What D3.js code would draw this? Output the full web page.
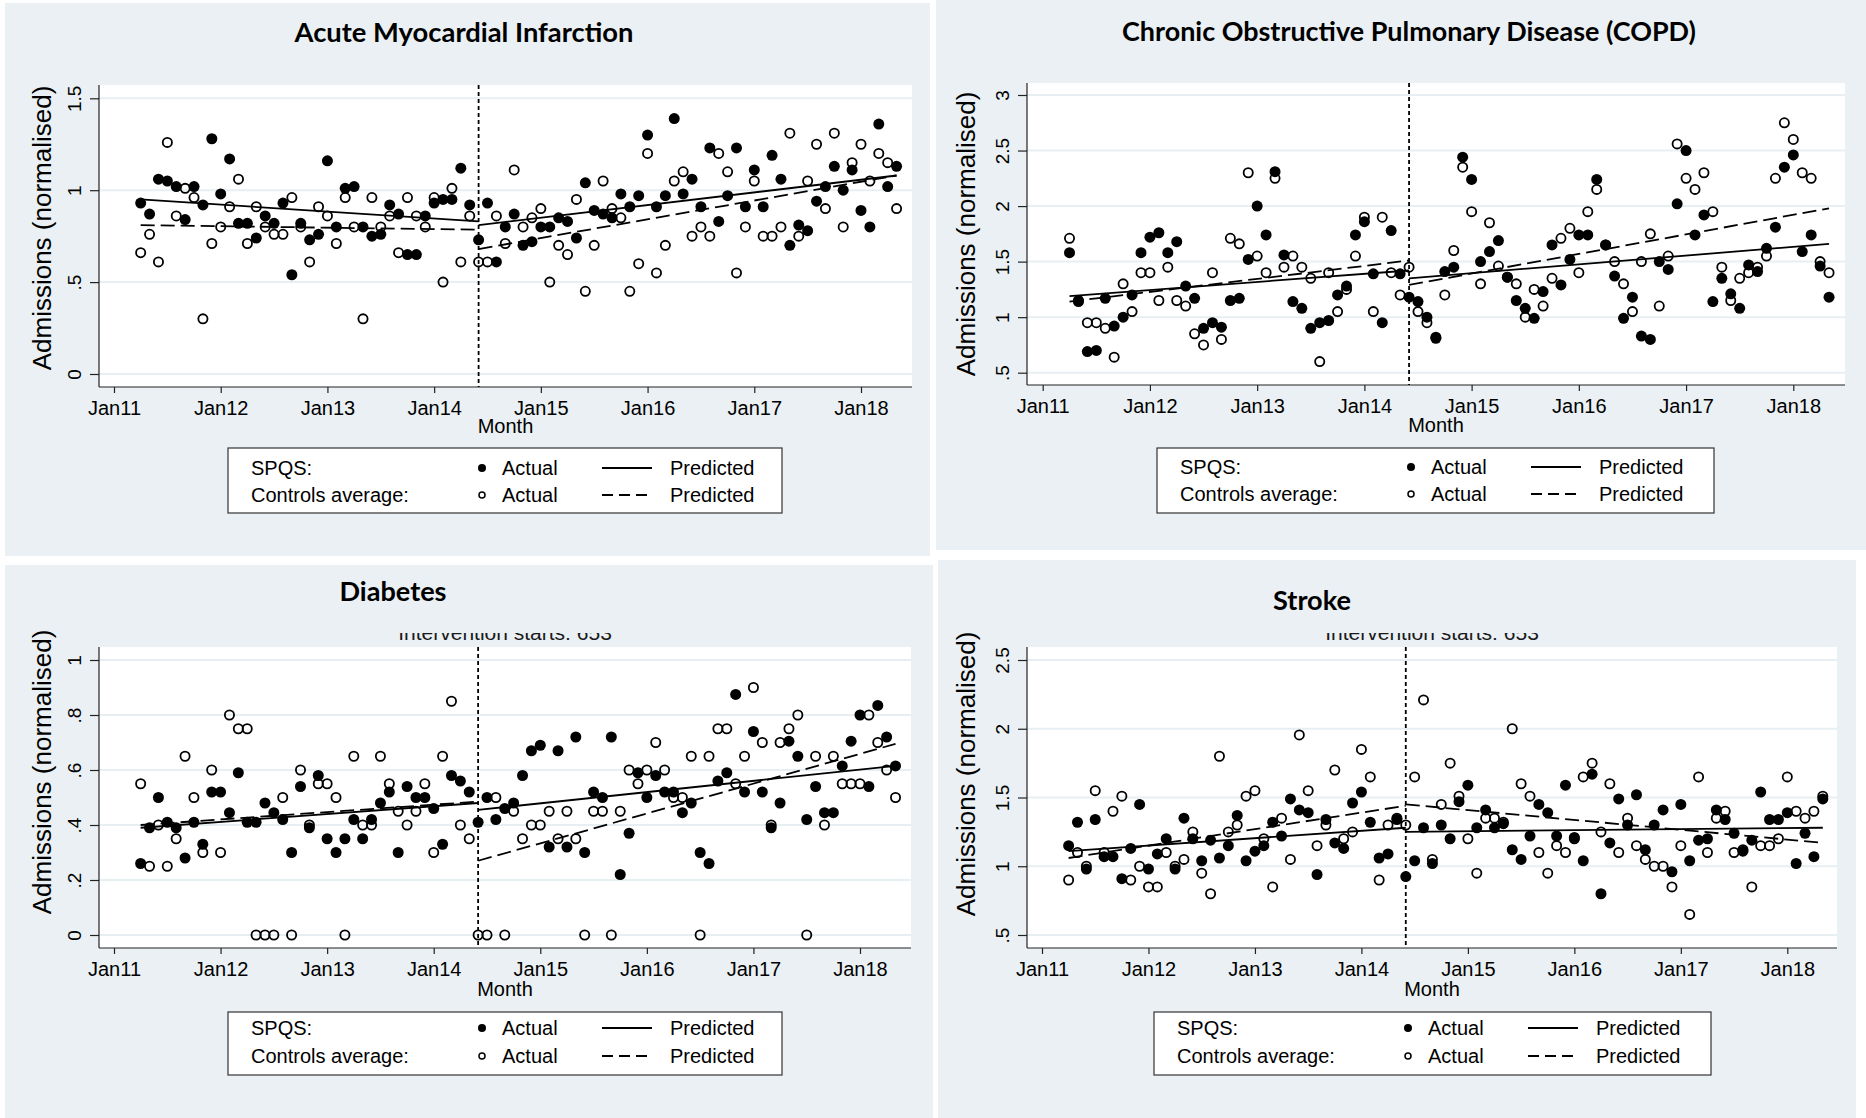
<!DOCTYPE html>
<html>
<head>
<meta charset="utf-8">
<script src="https://cdn.jsdelivr.net/npm/d3@7"></script>
<style>
  html, body { margin: 0; padding: 0; background: #ffffff; }
  svg { display: block; }
</style>
</head>
<body>
<svg id="chart" width="1866" height="1118"></svg>
<script>
// Months counted from January 2011 (0 = Jan 2011); monthly series run Apr 2011 – May 2018.
const months = d3.range(3, 89);
const interventionMonth = 41;          // June 2014
const xTickMonths = [0, 12, 24, 36, 48, 60, 72, 84];
const xTickLabels = ["Jan11", "Jan12", "Jan13", "Jan14", "Jan15", "Jan16", "Jan17", "Jan18"];
// Segmented fits: pre-intervention start/end, post-intervention start/end
const fitMonths = [3, 41, 41, 88];

// Acute myocardial infarction
const amiSpqs = [0.93,0.87,1.06,1.05,1.02,0.84,1.02,0.92,1.28,0.98,
  1.17,0.82,0.82,0.74,0.86,0.82,0.93,0.54,0.82,0.73,
  0.76,1.16,0.80,1.01,1.02,0.80,0.75,0.76,0.92,0.87,
  0.65,0.65,0.86,0.93,0.95,0.95,1.12,0.92,0.73,0.93,
  0.61,0.80,0.87,0.70,0.72,0.80,0.80,0.85,0.83,0.74,
  1.04,0.89,0.87,0.85,0.98,0.91,0.97,1.30,0.91,0.97,
  1.39,0.98,1.06,0.91,1.23,0.83,0.97,1.23,0.91,1.11,
  0.91,1.19,1.06,0.70,0.81,0.78,0.94,1.02,1.13,1.00,
  1.11,0.89,0.80,1.36,1.02,1.13];
const amiControls = [0.66,0.76,0.61,1.26,0.86,1.01,0.96,0.30,0.71,0.80,
  0.91,1.06,0.71,0.91,0.80,0.76,0.76,0.96,0.80,0.61,
  0.91,0.86,0.71,0.96,0.80,0.30,0.96,0.80,0.86,0.66,
  0.96,0.86,0.80,0.96,0.50,1.01,0.61,0.86,0.61,0.61,
  0.86,0.71,1.11,0.80,0.85,0.90,0.50,0.70,0.65,0.95,
  0.45,0.70,1.05,0.90,0.85,0.45,0.60,1.20,0.55,0.70,
  1.05,1.10,0.75,0.80,0.75,1.20,1.10,0.55,0.80,1.05,
  0.75,0.75,0.80,1.31,0.75,1.05,1.25,0.90,1.31,0.80,
  1.15,1.25,1.05,1.20,1.15,0.90];
const amiFitSpqs = [0.95, 0.83, 0.81, 1.08];
const amiFitControls = [0.81, 0.785, 0.68, 1.08];
const amiYTicks = [0, 0.5, 1, 1.5];
const amiYTickLabels = ["0", ".5", "1", "1.5"];

// Chronic obstructive pulmonary disease
const copdSpqs = [1.58,1.14,0.69,0.70,1.17,0.92,1.00,1.20,1.58,1.72,
  1.76,1.58,1.68,1.28,1.17,0.90,0.95,0.91,1.15,1.17,
  1.52,2.00,1.74,2.31,1.56,1.14,1.08,0.90,0.95,0.97,
  1.20,1.28,1.74,1.86,1.39,0.95,1.78,1.39,1.18,1.14,
  1.00,0.81,1.41,1.45,2.44,2.24,1.50,1.59,1.69,1.36,
  1.15,1.08,0.99,1.23,1.65,1.29,1.52,1.74,1.74,2.24,
  1.65,1.37,0.99,1.18,0.83,0.80,1.50,1.43,2.02,2.50,
  1.74,1.92,1.14,1.35,1.21,1.08,1.47,1.41,1.62,1.81,
  2.35,2.46,1.59,1.74,1.46,1.18];
const copdControls = [1.71,1.15,0.95,0.95,0.90,0.64,1.30,1.05,1.40,1.40,
  1.15,1.45,1.15,1.10,0.85,0.75,1.40,0.80,1.71,1.66,
  2.30,1.55,1.40,2.25,1.45,1.55,1.45,1.35,0.60,1.40,
  1.05,1.25,1.55,1.90,1.05,1.90,1.40,1.20,1.45,1.05,
  0.95,0.82,1.20,1.60,2.35,1.95,1.30,1.85,1.46,1.36,
  1.30,1.00,1.25,1.10,1.35,1.71,1.80,1.40,1.95,2.15,
  1.65,1.50,1.30,1.05,1.50,1.75,1.10,1.55,2.56,2.25,
  2.15,2.30,1.95,1.45,1.15,1.35,1.40,1.45,1.55,2.25,
  2.75,2.60,2.30,2.25,1.50,1.40];
const copdFitSpqs = [1.19, 1.42, 1.35, 1.66];
const copdFitControls = [1.14, 1.51, 1.29, 1.98];
const copdYTicks = [0.5, 1, 1.5, 2, 2.5, 3];
const copdYTickLabels = [".5", "1", "1.5", "2", "2.5", "3"];

// Diabetes
const diabSpqs = [0.26,0.39,0.50,0.41,0.39,0.28,0.41,0.33,0.52,0.52,
  0.445,0.59,0.41,0.41,0.48,0.445,0.42,0.30,0.54,0.39,
  0.58,0.35,0.30,0.35,0.42,0.35,0.42,0.48,0.52,0.30,
  0.54,0.50,0.50,0.46,0.33,0.58,0.56,0.52,0.41,0.50,
  0.42,0.46,0.48,0.58,0.67,0.69,0.32,0.67,0.32,0.72,
  0.30,0.52,0.50,0.72,0.22,0.37,0.59,0.50,0.58,0.52,
  0.52,0.445,0.48,0.30,0.26,0.56,0.59,0.875,0.52,0.74,
  0.52,0.39,0.48,0.705,0.65,0.42,0.54,0.445,0.445,0.615,
  0.705,0.80,0.54,0.835,0.72,0.615];
const diabControls = [0.55,0.25,0.40,0.25,0.35,0.65,0.50,0.30,0.60,0.30,
  0.80,0.75,0.75,0,0,0,0.50,0,0.60,0.40,
  0.55,0.55,0.50,0,0.65,0.40,0.40,0.65,0.55,0.45,
  0.40,0.45,0.55,0.30,0.65,0.85,0.40,0.35,0,0,
  0.50,0,0.45,0.35,0.40,0.40,0.45,0.35,0.45,0.35,
  0,0.45,0.45,0,0.45,0.60,0.55,0.60,0.70,0.60,
  0.50,0.50,0.65,0,0.65,0.75,0.75,0.55,0.65,0.90,
  0.70,0.40,0.70,0.75,0.80,0,0.65,0.40,0.65,0.55,
  0.55,0.55,0.80,0.70,0.60,0.50];
const diabFitSpqs = [0.39, 0.48, 0.455, 0.615];
const diabFitControls = [0.40, 0.485, 0.27, 0.695];
const diabYTicks = [0, 0.2, 0.4, 0.6, 0.8, 1];
const diabYTickLabels = ["0", ".2", ".4", ".6", ".8", "1"];

// Stroke
const strokeSpqs = [1.15,1.32,0.98,1.34,1.07,1.07,0.91,1.13,1.45,0.98,
  1.09,1.20,0.98,1.35,1.20,1.04,1.19,1.06,1.15,1.37,
  1.04,1.11,1.15,1.32,1.22,1.49,1.41,1.39,0.94,1.34,
  1.17,1.13,1.46,1.54,1.32,1.06,1.09,1.34,0.925,1.04,
  1.28,1.02,1.30,1.20,1.47,1.59,1.28,1.41,1.28,1.31,
  1.12,1.05,1.22,1.45,1.39,1.22,1.59,1.21,1.04,1.67,
  0.80,1.17,1.49,1.30,1.52,1.12,1.30,1.41,0.96,1.45,
  1.04,1.19,1.20,1.41,1.34,1.24,1.11,1.19,1.54,1.34,
  1.34,1.39,1.02,1.24,1.07,1.49];
const strokeControls = [0.90,1.10,1.00,1.55,1.10,1.40,1.51,0.90,1.00,0.85,
  0.85,1.10,1.00,1.05,1.25,0.95,0.80,1.80,1.25,1.30,
  1.51,1.55,1.20,0.85,1.35,1.05,1.955,1.55,1.15,1.30,
  1.70,1.20,1.25,1.85,1.65,0.90,1.30,1.35,1.30,1.65,
  2.21,1.05,1.45,1.75,1.51,1.20,0.95,1.35,1.35,1.32,
  2.00,1.60,1.51,1.10,0.95,1.15,1.10,1.20,1.65,1.75,
  1.25,1.60,1.10,1.35,1.15,1.05,1.00,1.00,0.85,1.15,
  0.65,1.65,1.10,1.35,1.40,1.10,1.12,0.85,1.15,1.15,
  1.20,1.65,1.40,1.35,1.40,1.51];
const strokeFitSpqs = [1.11, 1.28, 1.25, 1.28];
const strokeFitControls = [1.06, 1.44, 1.45, 1.17];
const strokeYTicks = [0.5, 1, 1.5, 2, 2.5];
const strokeYTickLabels = [".5", "1", "1.5", "2", "2.5"];

// ---------------------------------------------------------------------------
// Layout and styling
const BG = "#eaf0f3";
const GRID = "#e7eff2";
const SANS = "'Liberation Sans', Arial, sans-serif";
const TITLE_FONT = "Lato, 'Open Sans', sans-serif";

const panels = [
  { title: "Acute Myocardial Infarction", spqs: amiSpqs, controls: amiControls,
    fitS: amiFitSpqs, fitC: amiFitControls, yTicks: amiYTicks, yLabels: amiYTickLabels,
    plot: { l: 99, r: 912, t: 85, b: 387 }, xPx: [114, 861], yVal: [0, 1.5], yPx: [374, 98.3],
    titlePos: [464, 31, 339], yTitlePos: [42, 228], monthY: 426,
    legend: { x: 228, y: 448, w: 554, h: 65, r1: 468, r2: 495 }, note: null },
  { title: "Chronic Obstructive Pulmonary Disease (COPD)", spqs: copdSpqs, controls: copdControls,
    fitS: copdFitSpqs, fitC: copdFitControls, yTicks: copdYTicks, yLabels: copdYTickLabels,
    plot: { l: 1027, r: 1845, t: 83, b: 385 }, xPx: [1042.7, 1793.3], yVal: [0.5, 3], yPx: [372.7, 95],
    titlePos: [1409, 30, 574], yTitlePos: [966, 234], monthY: 425,
    legend: { x: 1157, y: 448, w: 557, h: 65, r1: 467, r2: 494 }, note: null },
  { title: "Diabetes", spqs: diabSpqs, controls: diabControls,
    fitS: diabFitSpqs, fitC: diabFitControls, yTicks: diabYTicks, yLabels: diabYTickLabels,
    plot: { l: 99, r: 911, t: 647, b: 948 }, xPx: [114, 860], yVal: [0, 1], yPx: [935, 660],
    titlePos: [393, 590, 107], yTitlePos: [42, 772], monthY: 989,
    legend: { x: 228, y: 1012, w: 554, h: 63, r1: 1028, r2: 1056 }, note: [505, 640] },
  { title: "Stroke", spqs: strokeSpqs, controls: strokeControls,
    fitS: strokeFitSpqs, fitC: strokeFitControls, yTicks: strokeYTicks, yLabels: strokeYTickLabels,
    plot: { l: 1027, r: 1837, t: 647, b: 948 }, xPx: [1042, 1787.3], yVal: [0.5, 2.5], yPx: [935, 660],
    titlePos: [1312, 599, 78], yTitlePos: [966, 774], monthY: 989,
    legend: { x: 1154, y: 1012, w: 557, h: 63, r1: 1028, r2: 1056 }, note: [1432, 640] }
];

const svg = d3.select("#chart");

// Panel backgrounds (four graph regions with thin white seams)
const regions = [
  { x: 5, y: 3, w: 925, h: 553 },
  { x: 936, y: 0, w: 930, h: 550 },
  { x: 5, y: 565, w: 928, h: 553 },
  { x: 938, y: 560, w: 918, h: 558 }
];
svg.selectAll("rect.region").data(regions).join("rect")
  .attr("class", "region")
  .attr("x", d => d.x).attr("y", d => d.y)
  .attr("width", d => d.w).attr("height", d => d.h)
  .attr("fill", BG);

const defs = svg.append("defs");

panels.forEach((p, pi) => {
  const g = svg.append("g").attr("class", "panel");
  const x = d3.scaleLinear().domain([0, 84]).range(p.xPx);
  const y = d3.scaleLinear().domain(p.yVal).range(p.yPx);

  // Note above the plot, partly hidden behind the title band
  if (p.note) {
    const cid = "noteclip" + pi;
    defs.append("clipPath").attr("id", cid)
      .append("rect").attr("x", p.plot.l).attr("y", 633)
      .attr("width", p.plot.r - p.plot.l).attr("height", 14);
    g.append("text")
      .attr("clip-path", `url(#${cid})`)
      .attr("x", p.note[0]).attr("y", p.note[1])
      .attr("text-anchor", "middle")
      .attr("font-family", SANS).attr("font-size", 21)
      .attr("fill", "#1a1a1a")
      .text("Intervention starts: 653");
  }

  // Plot area
  g.append("rect")
    .attr("x", p.plot.l).attr("y", p.plot.t)
    .attr("width", p.plot.r - p.plot.l).attr("height", p.plot.b - p.plot.t)
    .attr("fill", "#ffffff");

  // Horizontal grid
  g.selectAll("line.grid").data(p.yTicks).join("line")
    .attr("class", "grid")
    .attr("x1", p.plot.l).attr("x2", p.plot.r)
    .attr("y1", d => y(d)).attr("y2", d => y(d))
    .attr("stroke", GRID).attr("stroke-width", 2);

  // Y axis
  const yAxis = g.append("g")
    .attr("transform", `translate(${p.plot.l},0)`)
    .call(d3.axisLeft(y).tickValues(p.yTicks).tickSize(9)
      .tickFormat((d, i) => p.yLabels[i]));
  yAxis.select(".domain").remove();
  yAxis.selectAll(".tick line").attr("stroke", "#222").attr("stroke-width", 1.2);
  yAxis.selectAll(".tick text")
    .attr("transform", "rotate(-90)")
    .attr("x", 0).attr("y", -18).attr("dy", 0)
    .attr("text-anchor", "middle")
    .attr("font-family", SANS).attr("font-size", 19).attr("fill", "#000");
  g.append("line")
    .attr("x1", p.plot.l).attr("x2", p.plot.l)
    .attr("y1", p.plot.t).attr("y2", p.plot.b)
    .attr("stroke", "#222").attr("stroke-width", 1.2);

  // X axis
  const xAxis = g.append("g")
    .attr("transform", `translate(0,${p.plot.b})`)
    .call(d3.axisBottom(x).tickValues(xTickMonths).tickSize(6)
      .tickFormat((d, i) => xTickLabels[i]));
  xAxis.select(".domain").remove();
  xAxis.selectAll(".tick line").attr("stroke", "#222").attr("stroke-width", 1.2);
  xAxis.selectAll(".tick text")
    .attr("y", 21).attr("dy", "0.35em")
    .attr("font-family", SANS).attr("font-size", 20).attr("fill", "#000");
  g.append("line")
    .attr("x1", p.plot.l).attr("x2", p.plot.r)
    .attr("y1", p.plot.b).attr("y2", p.plot.b)
    .attr("stroke", "#222").attr("stroke-width", 1.2);

  // Axis titles
  g.append("text")
    .attr("transform", `translate(${p.yTitlePos[0]},${p.yTitlePos[1]}) rotate(-90)`)
    .attr("text-anchor", "middle").attr("dominant-baseline", "central")
    .attr("font-family", SANS).attr("font-size", 26).attr("fill", "#000")
    .text("Admissions (normalised)");
  g.append("text")
    .attr("x", (p.plot.l + p.plot.r) / 2).attr("y", p.monthY)
    .attr("text-anchor", "middle").attr("dominant-baseline", "central")
    .attr("font-family", SANS).attr("font-size", 20).attr("fill", "#000")
    .text("Month");

  // Panel title
  g.append("text")
    .attr("x", p.titlePos[0]).attr("y", p.titlePos[1])
    .attr("text-anchor", "middle").attr("dominant-baseline", "central")
    .attr("font-family", TITLE_FONT).attr("font-weight", 700).attr("font-size", 27)
    .attr("textLength", p.titlePos[2]).attr("lengthAdjust", "spacingAndGlyphs")
    .attr("fill", "#000")
    .text(p.title);

  // Controls average: hollow markers
  const ctrlPts = months.map((m, i) => ({ m, v: p.controls[i] }));
  g.selectAll("circle.ctrl").data(ctrlPts).join("circle")
    .attr("class", "ctrl")
    .attr("cx", d => x(d.m)).attr("cy", d => y(d.v)).attr("r", 4.6)
    .attr("fill", "none").attr("stroke", "#000").attr("stroke-width", 1.8);

  // SPQS: solid markers
  const spqsPts = months.map((m, i) => ({ m, v: p.spqs[i] }));
  g.selectAll("circle.spqs").data(spqsPts).join("circle")
    .attr("class", "spqs")
    .attr("cx", d => x(d.m)).attr("cy", d => y(d.v)).attr("r", 5.5)
    .attr("fill", "#000");

  // Segmented predicted trends
  const line = d3.line().x(d => x(d[0])).y(d => y(d[1]));
  const segs = fit => [
    [[fitMonths[0], fit[0]], [fitMonths[1], fit[1]]],
    [[fitMonths[2], fit[2]], [fitMonths[3], fit[3]]]
  ];
  g.selectAll("path.fitS").data(segs(p.fitS)).join("path")
    .attr("class", "fitS").attr("d", line)
    .attr("fill", "none").attr("stroke", "#000").attr("stroke-width", 1.8);
  g.selectAll("path.fitC").data(segs(p.fitC)).join("path")
    .attr("class", "fitC").attr("d", line)
    .attr("fill", "none").attr("stroke", "#000").attr("stroke-width", 1.8)
    .attr("stroke-dasharray", "14,6");

  // Intervention start
  g.append("line")
    .attr("x1", x(interventionMonth)).attr("x2", x(interventionMonth))
    .attr("y1", p.plot.t).attr("y2", p.plot.b)
    .attr("stroke", "#000").attr("stroke-width", 1.8)
    .attr("stroke-dasharray", "4,3");

  // Legend
  const L = p.legend;
  const lg = g.append("g").attr("transform", `translate(${L.x},0)`);
  lg.append("rect")
    .attr("x", 0).attr("y", L.y).attr("width", L.w).attr("height", L.h)
    .attr("fill", "#ffffff").attr("stroke", "#333").attr("stroke-width", 1.2);
  const rows = [
    { label: "SPQS:", y: L.r1, solid: true },
    { label: "Controls average:", y: L.r2, solid: false }
  ];
  rows.forEach(r => {
    lg.append("text").attr("x", 23).attr("y", r.y)
      .attr("dominant-baseline", "central")
      .attr("font-family", SANS).attr("font-size", 20).attr("fill", "#000")
      .text(r.label);
    if (r.solid) {
      lg.append("circle").attr("cx", 254).attr("cy", r.y).attr("r", 4).attr("fill", "#000");
    } else {
      lg.append("circle").attr("cx", 254).attr("cy", r.y).attr("r", 3)
        .attr("fill", "none").attr("stroke", "#000").attr("stroke-width", 1.5);
    }
    lg.append("text").attr("x", 274).attr("y", r.y)
      .attr("dominant-baseline", "central")
      .attr("font-family", SANS).attr("font-size", 20).attr("fill", "#000")
      .text("Actual");
    lg.append("line").attr("x1", 374).attr("x2", 424).attr("y1", r.y).attr("y2", r.y)
      .attr("stroke", "#000").attr("stroke-width", 1.8)
      .attr("stroke-dasharray", r.solid ? null : "11,6");
    lg.append("text").attr("x", 442).attr("y", r.y)
      .attr("dominant-baseline", "central")
      .attr("font-family", SANS).attr("font-size", 20).attr("fill", "#000")
      .text("Predicted");
  });
});
</script>
</body>
</html>
